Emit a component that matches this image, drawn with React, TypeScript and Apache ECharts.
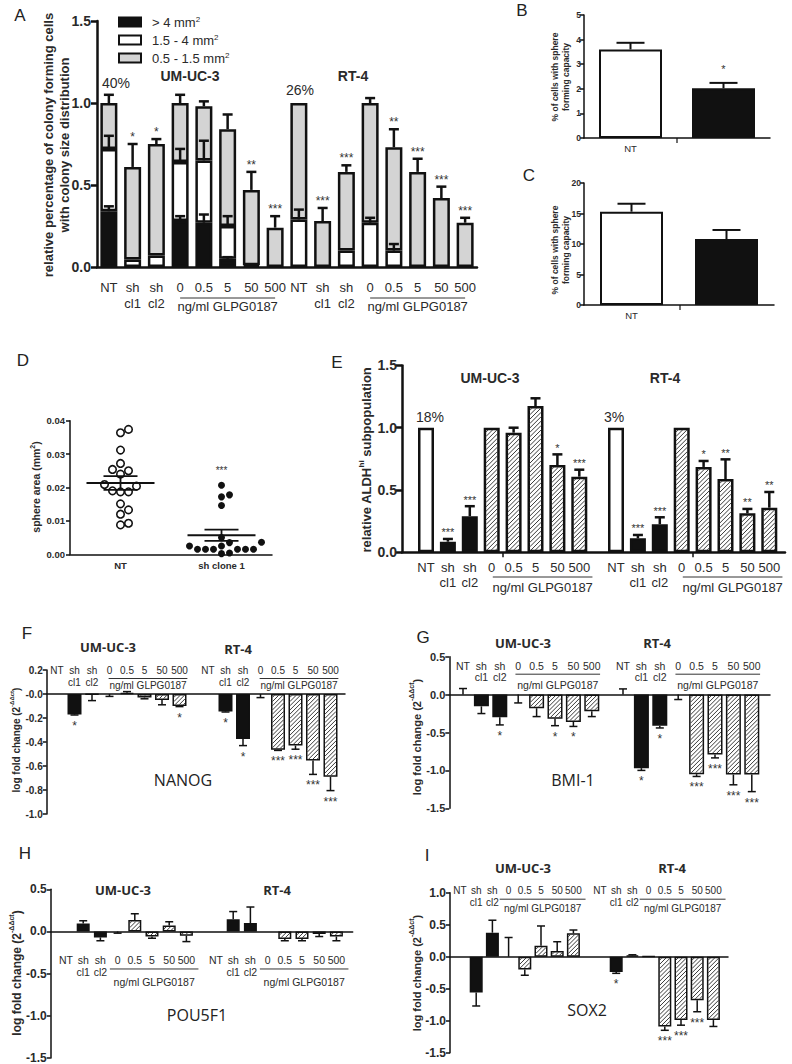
import React, { useEffect, useRef } from 'react';
import * as echarts from 'echarts';

const SANS = '"Liberation Sans", Arial, Helvetica, sans-serif';
const CAL = '"Open Sans", "Liberation Sans", sans-serif';
const INK = '#111111';
const TXT = '#2a2a2a';
const GREY = '#d4d4d4';

// ---------------- shared categories ----------------
const doseGroup = ['NT', 'sh\ncl1', 'sh\ncl2', '0', '0.5', '5', '50', '500'];
const fillKinds = ['open', 'solid', 'solid', 'hatch', 'hatch', 'hatch', 'hatch', 'hatch'];
const cellLines = ['UM-UC-3', 'RT-4'];
const doseUnit = 'ng/ml GLPG0187';

// ---------------- A : colony size distribution ----------------
const aLegend = ['> 4 mm2', '1.5 - 4 mm2', '0.5 - 1.5 mm2'];
const aYTicks = ['0.0', '0.5', '1.0', '1.5'];
const aBlackTop = [0.34, 0, 0, 0.28, 0.27, 0.05, 0.01, 0, 0, 0, 0, 0, 0, 0, 0, 0];
const aWhiteTop = [0.72, 0.045, 0.07, 0.64, 0.65, 0.25, 0.01, 0, 0.29, 0, 0.1, 0.27, 0.1, 0, 0, 0];
const aTotal = [1.0, 0.61, 0.75, 1.0, 0.98, 0.84, 0.47, 0.24, 1.0, 0.28, 0.58, 1.0, 0.73, 0.58, 0.42, 0.27];
const aErrBlack = [0.37, null, null, 0.31, 0.32, 0.06, null, null, null, null, null, null, null, null, null, null];
const aErrWhite = [0.8, null, null, 0.72, 0.77, 0.31, null, null, 0.35, null, null, 0.3, 0.14, null, null, null];
const aErrTotal = [1.05, 0.75, 0.78, 1.05, 1.01, 0.93, 0.58, 0.31, null, 0.36, 0.62, 1.03, 0.84, 0.66, 0.49, 0.3];
const aStars = ['', '*', '*', '', '', '', '**', '***', '', '***', '***', '', '**', '***', '***', '***'];
const aPct = ['40%', '26%'];

// ---------------- B / C : sphere forming capacity ----------------
const bcCats = ['NT', 'ITGAV sh clone 1'];
const bYTicks = ['0', '1', '2', '3', '4', '5'];
const bVals = [3.6, 2.02];
const bErr = [3.87, 2.24];
const bStars = ['', '*'];
const cYTicks = ['0', '5', '10', '15', '20'];
const cVals = [15.3, 10.8];
const cErr = [16.6, 12.3];
const cStars = ['', ''];

// ---------------- D : sphere area ----------------
const dCats = ['NT', 'sh clone 1'];
const dYTicks = ['0.00', '0.01', '0.02', '0.03', '0.04'];
const dNT = [0.0374, 0.0364, 0.0312, 0.0272, 0.025, 0.0254, 0.024, 0.0204, 0.0209, 0.0187, 0.0187, 0.019, 0.0133, 0.0151, 0.012, 0.0088, 0.0093];
const dSh = [0.0207, 0.0178, 0.0172, 0.0146, 0.005, 0.0036, 0.0035, 0.0025, 0.0025, 0.0015, 0.0015, 0.0015, 0.0015, 0.0015, 0.0015, 0.0004, 0.0002];
const dStars = ['', '***'];

// ---------------- E : ALDH-hi ----------------
const eYTicks = ['0.0', '0.5', '1.0', '1.5'];
const eVals = [1.0, 0.085, 0.29, 1.0, 0.96, 1.174, 0.7, 0.607, 1.0, 0.112, 0.225, 1.0, 0.685, 0.588, 0.313, 0.358];
const eErr = [null, 0.107, 0.37, null, 1.0, 1.236, 0.786, 0.663, null, 0.139, 0.281, null, 0.733, 0.746, 0.348, 0.484];
const eStars = ['', '***', '***', '', '', '', '*', '***', '', '***', '***', '', '*', '**', '**', '**'];
const ePct = ['18%', '3%'];

// ---------------- F : NANOG ----------------
const fYTicks = ['-1.0', '-0.8', '-0.6', '-0.4', '-0.2', '-0.0', '0.2'];
const fVals = [0, -0.17, -0.005, 0, 0.01, -0.03, -0.05, -0.1, 0, -0.145, -0.375, 0, -0.465, -0.43, -0.555, -0.69];
const fErr = [null, -0.175, -0.055, -0.02, 0.02, -0.04, -0.09, -0.105, null, -0.15, -0.43, -0.03, -0.47, -0.46, -0.67, -0.805];
const fStars = ['', '*', '', '', '', '', '', '*', '', '*', '*', '', '***', '***', '***', '***'];

// ---------------- G : BMI-1 ----------------
const gYTicks = ['-1.5', '-1.0', '-0.5', '0.0', '0.5'];
const gVals = [0, -0.155, -0.3, 0, -0.18, -0.32, -0.36, -0.22, 0, -0.97, -0.41, 0, -1.05, -0.79, -1.055, -1.055];
const gErr = [0.08, -0.25, -0.4, -0.11, -0.29, -0.41, -0.42, -0.29, 0.075, -1.0, -0.44, -0.065, -1.08, -0.835, -1.19, -1.28];
const gStars = ['', '', '*', '', '', '*', '*', '', '', '*', '*', '', '***', '***', '***', '***'];

// ---------------- H : POU5F1 ----------------
const hYTicks = ['-1.5', '-1.0', '-0.5', '0.0', '0.5'];
const hVals = [0, 0.095, -0.07, 0, 0.135, -0.06, 0.07, -0.05, 0, 0.145, 0.1, 0, -0.09, -0.09, -0.03, -0.06];
const hErr = [null, 0.127, -0.11, -0.02, 0.21, -0.08, 0.115, -0.12, null, 0.236, 0.29, null, -0.11, -0.11, -0.06, -0.11];
const hStars = ['', '', '', '', '', '', '', '', '', '', '', '', '', '', '', ''];

// ---------------- I : SOX2 ----------------
const iYTicks = ['-1.5', '-1.0', '-0.5', '0.0', '0.5', '1.0'];
const iVals = [0, -0.56, 0.375, 0, -0.2, 0.17, 0.09, 0.365, 0, -0.24, 0.02, 0.005, -1.09, -0.99, -0.68, -0.99];
const iErr = [null, -0.77, 0.57, 0.3, -0.29, 0.48, 0.234, 0.417, null, -0.26, 0.03, null, -1.15, -1.07, -0.86, -1.09];
const iStars = ['', '', '', '', '', '', '', '', '', '*', '', '', '***', '***', '***', ''];

const geneNames = ['NANOG', 'BMI-1', 'POU5F1', 'SOX2'];

// ---------------- helpers ----------------
function styleFor(kind: string) {
  if (kind === 'solid') return { color: INK };
  return { color: '#ffffff' };
}

function mean(a: number[]) {
  return a.reduce((s, v) => s + v, 0) / a.length;
}
function sem(a: number[]) {
  const m = mean(a);
  const sd = Math.sqrt(a.reduce((s, v) => s + (v - m) * (v - m), 0) / (a.length - 1));
  return sd / Math.sqrt(a.length);
}

function swarmOffsets(vals: number[], pxPerUnit: number, diam: number, step: number) {
  const order = vals.map((_, i) => i).sort((a, b) => vals[a] - vals[b]);
  const placed: { x: number; y: number }[] = [];
  const out = new Array(vals.length).fill(0);
  for (const i of order) {
    const y = vals[i] * pxPerUnit;
    for (let k = 0; k < 30; k++) {
      const dx = k === 0 ? 0 : (k % 2 === 1 ? 1 : -1) * Math.ceil(k / 2) * step;
      if (placed.every((p) => Math.hypot(p.x - dx, p.y - y) >= diam)) {
        out[i] = dx;
        placed.push({ x: dx, y });
        break;
      }
    }
  }
  return out;
}

function buildOption() {
  const grids: any[] = [];
  const xAxes: any[] = [];
  const yAxes: any[] = [];
  const series: any[] = [];
  const graphic: any[] = [];

  const addGrid = (r: any) => {
    grids.push({ left: r.left, top: r.top, width: r.width, height: r.height });
    return grids.length - 1;
  };

  const yAxisOf = (gi: number, o: any) => ({
    gridIndex: gi,
    type: 'value',
    min: o.min,
    max: o.max,
    interval: o.interval,
    axisLine: { show: true, onZero: false, lineStyle: { color: INK, width: o.w } },
    axisTick: { show: true, length: o.tick, lineStyle: { color: INK, width: o.w } },
    axisLabel: {
      fontFamily: SANS,
      fontWeight: 'bold',
      fontSize: o.fs,
      color: TXT,
      margin: o.margin,
      formatter: (_v: number, i: number) => o.ticks[i] ?? '',
    },
    splitLine: { show: false },
  });

  const errSeries = (xi: number, items: any[], lw: number, cap: number) => ({
    type: 'custom',
    xAxisIndex: xi,
    yAxisIndex: xi,
    silent: true,
    z: 4,
    data: items.map((it) => [it.x, it.v, it.e]),
    renderItem: (_p: any, api: any) => {
      const a = api.coord([api.value(0), api.value(1)]);
      const b = api.coord([api.value(0), api.value(2)]);
      return {
        type: 'group',
        children: [
          { type: 'line', shape: { x1: a[0], y1: a[1], x2: b[0], y2: b[1] }, style: { stroke: INK, lineWidth: lw } },
          { type: 'line', shape: { x1: b[0] - cap, y1: b[1], x2: b[0] + cap, y2: b[1] }, style: { stroke: INK, lineWidth: lw } },
        ],
      };
    },
  });

  // diagonal "/" hatching laid over the white drug-dose bars
  const hatchSeries = (xi: number, items: any[], barW: number, inset: number, gap: number) => ({
    type: 'custom',
    xAxisIndex: xi,
    yAxisIndex: xi,
    silent: true,
    z: 3,
    data: items.map((it) => [it.x, it.v]),
    renderItem: (_p: any, api: any) => {
      const a = api.coord([api.value(0), 0]);
      const b = api.coord([api.value(0), api.value(1)]);
      const x0 = a[0] - barW / 2 + inset;
      const x1 = a[0] + barW / 2 - inset;
      const y0 = Math.min(a[1], b[1]) + inset;
      const y1 = Math.max(a[1], b[1]) - inset;
      const children: any[] = [];
      if (y1 > y0 && x1 > x0) {
        for (let c = x0 + y0 + gap * 0.5; c < x1 + y1; c += gap) {
          const xa = Math.max(x0, c - y1);
          const xb = Math.min(x1, c - y0);
          if (xb > xa) {
            children.push({
              type: 'line',
              shape: { x1: xa, y1: c - xa, x2: xb, y2: c - xb },
              style: { stroke: '#3a3a3a', lineWidth: 1 },
            });
          }
        }
      }
      return { type: 'group', children };
    },
  });

  const starSeries = (xi: number, items: any[], fs: number, gapUp: number, gapDown: number) => ({
    type: 'custom',
    xAxisIndex: xi,
    yAxisIndex: xi,
    silent: true,
    z: 5,
    data: items.map((it) => [it.x, it.a]),
    renderItem: (p: any, api: any) => {
      const it = items[p.dataIndex];
      const c = api.coord([api.value(0), api.value(1)]);
      const up = it.up;
      return {
        type: 'text',
        x: c[0],
        y: up ? c[1] - gapUp : c[1] + gapDown,
        style: {
          text: it.s,
          fontFamily: SANS,
          fontSize: fs,
          fill: '#333333',
          align: 'center',
          verticalAlign: up ? 'bottom' : 'top',
        },
      };
    },
  });

  const labelSeries = (xi: number, positions: number[], anchor: number, lab: any) => ({
    type: 'custom',
    xAxisIndex: xi,
    yAxisIndex: xi,
    silent: true,
    z: 5,
    data: positions.map((p) => [p, anchor]),
    renderItem: (p: any, api: any) => {
      const c = api.coord([api.value(0), api.value(1)]);
      return {
        type: 'text',
        x: c[0],
        y: c[1] + lab.dy1 - lab.lh / 2,
        style: {
          text: doseGroup[p.dataIndex % 8],
          fontFamily: SANS,
          fontSize: lab.fs,
          lineHeight: lab.lh,
          fill: TXT,
          align: 'center',
          verticalAlign: 'top',
        },
      };
    },
  });

  const doseSeries = (xi: number, spans: number[][], anchor: number, grp: any) => ({
    type: 'custom',
    xAxisIndex: xi,
    yAxisIndex: xi,
    silent: true,
    z: 5,
    data: spans.map((s) => [s[0], anchor, s[1]]),
    renderItem: (_p: any, api: any) => {
      const a = api.coord([api.value(0) + grp.dl, api.value(1)]);
      const b = api.coord([api.value(2) + grp.dr, api.value(1)]);
      return {
        type: 'group',
        children: [
          { type: 'line', shape: { x1: a[0], y1: a[1] + grp.dyLine, x2: b[0], y2: a[1] + grp.dyLine }, style: { stroke: '#333333', lineWidth: 1 } },
          {
            type: 'text',
            x: (a[0] + b[0]) / 2,
            y: a[1] + grp.dyText,
            style: { text: doseUnit, fontFamily: SANS, fontSize: grp.fs, fill: TXT, align: 'center', verticalAlign: 'middle' },
          },
        ],
      };
    },
  });

  const errItems = (pos: number[], vals: number[], errs: (number | null)[]) =>
    pos.map((x, i) => ({ x, v: vals[i], e: errs[i] })).filter((it) => it.e !== null && it.e !== undefined);
  const starItems = (pos: number[], vals: number[], errs: (number | null)[], stars: string[]) =>
    pos
      .map((x, i) => {
        const a = errs[i] !== null && errs[i] !== undefined ? (errs[i] as number) : vals[i];
        return { x, a, s: stars[i], up: a >= 0 };
      })
      .filter((it) => it.s);

  // ================= Panel A =================
  {
    const gi = addGrid({ left: 97, top: 21, width: 380, height: 246 });
    const cats = [...doseGroup, ...doseGroup];
    xAxes.push({
      gridIndex: gi,
      type: 'category',
      data: cats,
      axisLine: { lineStyle: { color: INK, width: 2.5 } },
      axisTick: { show: false },
      axisLabel: { show: false },
    });
    yAxes.push(yAxisOf(gi, { min: 0, max: 1.5, interval: 0.5, w: 2.5, tick: 6, fs: 14, margin: 6, ticks: aYTicks }));
    const seg = (top: number[], base: number[]) => top.map((t, i) => (t - base[i] > 0.0001 ? +(t - base[i]).toFixed(4) : null));
    const zeros = aBlackTop.map(() => 0);
    const common = { type: 'bar', stack: 'A', xAxisIndex: gi, yAxisIndex: gi, barWidth: 17, z: 2 };
    series.push({ ...common, name: aLegend[0], data: seg(aBlackTop, zeros), itemStyle: { color: INK, borderColor: INK, borderWidth: 2.5 } });
    series.push({ ...common, name: aLegend[1], data: seg(aWhiteTop, aBlackTop), itemStyle: { color: '#ffffff', borderColor: INK, borderWidth: 2.5 } });
    series.push({ ...common, name: aLegend[2], data: seg(aTotal, aWhiteTop), itemStyle: { color: GREY, borderColor: INK, borderWidth: 2.5 } });
    const pos = cats.map((_, i) => i);
    const items = [
      ...errItems(pos, aBlackTop, aErrBlack),
      ...errItems(pos, aWhiteTop, aErrWhite),
      ...errItems(pos, aTotal, aErrTotal),
    ];
    series.push(errSeries(gi, items, 2.5, 5));
    series.push(starSeries(gi, starItems(pos, aTotal, aErrTotal, aStars), 12, 1, 3));
    series.push(labelSeries(gi, pos, 0, { dy1: 20, lh: 16, fs: 13 }));
    series.push(doseSeries(gi, [[3, 7], [11, 15]], 0, { dl: -0.35, dr: 0.3, dyLine: 31, dyText: 39.5, fs: 13 }));
  }

  // ================= Panels B & C =================
  const simplePanel = (rect: any, ticks: string[], max: number, interval: number, vals: number[], errs: number[], stars: string[]) => {
    const gi = addGrid(rect);
    xAxes.push({
      gridIndex: gi,
      type: 'category',
      data: bcCats,
      axisLine: { lineStyle: { color: INK, width: 1.5 } },
      axisTick: { show: false },
      axisLabel: { fontFamily: SANS, fontSize: 9.5, color: TXT, margin: 5 },
    });
    yAxes.push(yAxisOf(gi, { min: 0, max, interval, w: 1.5, tick: 4, fs: 8.5, margin: 3, ticks }));
    series.push({
      type: 'bar',
      xAxisIndex: gi,
      yAxisIndex: gi,
      barWidth: 63,
      z: 2,
      data: vals.map((v, i) => ({ value: v, itemStyle: { color: i === 0 ? '#ffffff' : INK } })),
      itemStyle: { borderColor: INK, borderWidth: 2 },
    });
    const pos = vals.map((_, i) => i);
    series.push(errSeries(gi, errItems(pos, vals, errs), 2, 14));
    series.push(starSeries(gi, starItems(pos, vals, errs, stars), 11, 8, 3));
    return gi;
  };
  simplePanel({ left: 584, top: 15, width: 186, height: 123 }, bYTicks, 5, 1, bVals, bErr, bStars);
  simplePanel({ left: 584, top: 183, width: 190, height: 122 }, cYTicks, 20, 5, cVals, cErr, cStars);

  // ================= Panel D =================
  {
    const rect = { left: 70, top: 420.7, width: 202, height: 133.6 };
    const gi = addGrid(rect);
    xAxes.push({
      gridIndex: gi,
      type: 'category',
      data: dCats,
      axisLine: { lineStyle: { color: INK, width: 1.5 } },
      axisTick: { show: false },
      axisLabel: { fontFamily: SANS, fontSize: 9.5, fontWeight: 'bold', color: TXT, margin: 6 },
    });
    yAxes.push(yAxisOf(gi, { min: 0, max: 0.04, interval: 0.01, w: 1.5, tick: 4, fs: 9.5, margin: 5, ticks: dYTicks }));
    const ppu = rect.height / 0.04;
    const offNT = swarmOffsets(dNT, ppu, 7.6, 8);
    const offSh = swarmOffsets(dSh, ppu, 7.6, 8);
    series.push({
      type: 'scatter',
      xAxisIndex: gi,
      yAxisIndex: gi,
      symbol: 'circle',
      symbolSize: 7.5,
      z: 3,
      itemStyle: { color: '#ffffff', borderColor: INK, borderWidth: 1.6, opacity: 1 },
      data: dNT.map((v, i) => ({ value: [0, v], symbolOffset: [offNT[i], 0] })),
    });
    series.push({
      type: 'scatter',
      xAxisIndex: gi,
      yAxisIndex: gi,
      symbol: 'circle',
      symbolSize: 7,
      z: 3,
      itemStyle: { color: INK, opacity: 1 },
      data: dSh.map((v, i) => ({ value: [1, v], symbolOffset: [offSh[i], 0] })),
    });
    const groups = [dNT, dSh];
    series.push({
      type: 'custom',
      xAxisIndex: gi,
      yAxisIndex: gi,
      silent: true,
      z: 4,
      data: groups.map((g, i) => [i, mean(g), sem(g)]),
      renderItem: (_p: any, api: any) => {
        const x = api.value(0), m = api.value(1), s = api.value(2);
        const cm = api.coord([x, m]);
        const ch = api.coord([x, m + s]);
        const cl = api.coord([x, m - s]);
        const st = { stroke: INK, lineWidth: 1.8 };
        return {
          type: 'group',
          children: [
            { type: 'line', shape: { x1: cm[0] - 34, y1: cm[1], x2: cm[0] + 34, y2: cm[1] }, style: st },
            { type: 'line', shape: { x1: ch[0] - 17, y1: ch[1], x2: ch[0] + 17, y2: ch[1] }, style: st },
            { type: 'line', shape: { x1: cl[0] - 17, y1: cl[1], x2: cl[0] + 17, y2: cl[1] }, style: st },
            { type: 'line', shape: { x1: ch[0], y1: ch[1], x2: cl[0], y2: cl[1] }, style: st },
          ],
        };
      },
    });
    const starIt = groups
      .map((g, i) => ({ x: i, a: Math.max(...g), s: dStars[i], up: true }))
      .filter((it) => it.s);
    series.push(starSeries(gi, starIt, 10, 10, 0));
  }

  // ================= grouped panels E..I =================
  const groupedPanel = (p: any) => {
    const gi = addGrid(p.grid);
    const xMin = (p.grid.left - p.x0) / p.step;
    const xMax = (p.grid.left + p.grid.width - p.x0) / p.step;
    const gOff = p.gOff / p.step;
    const pos = Array.from({ length: 16 }, (_, i) => (i % 8) + (i >= 8 ? gOff : 0));
    xAxes.push({
      gridIndex: gi,
      type: 'value',
      min: xMin,
      max: xMax,
      axisLine: { show: true, onZero: true, lineStyle: { color: INK, width: p.axisW } },
      axisTick: p.midTicks
        ? { show: true, length: 5, customValues: [3.5, 3.5 + gOff], lineStyle: { color: INK, width: 1.5 } }
        : { show: false },
      axisLabel: { show: false },
      splitLine: { show: false },
    });
    yAxes.push(yAxisOf(gi, { min: p.yMin, max: p.yMax, interval: p.yInt, w: p.axisW, tick: p.tick, fs: p.yFont, margin: p.yMargin, ticks: p.yTicks }));
    series.push({
      type: 'bar',
      xAxisIndex: gi,
      yAxisIndex: gi,
      barWidth: p.barW,
      z: 2,
      itemStyle: { borderColor: INK, borderWidth: p.bw },
      data: p.vals
        .map((v: number, i: number) => (v === 0 ? null : { value: [pos[i], v], itemStyle: styleFor(fillKinds[i % 8]) }))
        .filter(Boolean),
    });
    const hatchIt = pos
      .map((x, i) => ({ x, v: p.vals[i], k: fillKinds[i % 8] }))
      .filter((it) => it.k === 'hatch' && it.v !== 0);
    series.push(hatchSeries(gi, hatchIt, p.barW, p.bw * 0.9, p.hatchGap));
    series.push(errSeries(gi, errItems(pos, p.vals, p.errs), p.errW, p.cap));
    series.push(starSeries(gi, starItems(pos, p.vals, p.errs, p.stars), p.starFs, p.starUp, p.starDown));
    series.push(labelSeries(gi, pos, p.labelAnchor, p.lab));
    series.push(doseSeries(gi, [[pos[3], pos[7]], [pos[11], pos[15]]], p.labelAnchor, p.grp));
  };

  groupedPanel({
    grid: { left: 402, top: 365.4, width: 383, height: 186.9 },
    yMin: 0, yMax: 1.5, yInt: 0.5, yTicks: eYTicks, yFont: 14, yMargin: 5, tick: 6,
    x0: 426, step: 21.9, gOff: 190, barW: 16, bw: 2.5, axisW: 2.5, errW: 2.5, cap: 5, midTicks: true, hatchGap: 4.4,
    vals: eVals, errs: eErr, stars: eStars, starFs: 11, starUp: 1, starDown: 3,
    labelAnchor: 0, lab: { dy1: 14.7, lh: 15, fs: 13 },
    grp: { dl: 0.05, dr: 0.6, dyLine: 24.7, dyText: 34.7, fs: 13 },
  });
  groupedPanel({
    grid: { left: 46.7, top: 670, width: 298.3, height: 144 },
    yMin: -1.0, yMax: 0.2, yInt: 0.2, yTicks: fYTicks, yFont: 10, yMargin: 4, tick: 4,
    x0: 57, step: 17.5, gOff: 151, barW: 14, bw: 1.5, axisW: 1.5, errW: 1.5, cap: 4, hatchGap: 4.2,
    vals: fVals, errs: fErr, stars: fStars, starFs: 12, starUp: 1, starDown: 5,
    labelAnchor: 0.2, lab: { dy1: 0.7, lh: 12.3, fs: 10 },
    grp: { dl: -0.05, dr: 0.45, dyLine: 8.5, dyText: 15, fs: 10 },
  });
  groupedPanel({
    grid: { left: 449.3, top: 656.7, width: 320.7, height: 151.6 },
    yMin: -1.5, yMax: 0.5, yInt: 0.5, yTicks: gYTicks, yFont: 11, yMargin: 4, tick: 4,
    x0: 463, step: 18.4, gOff: 160, barW: 15, bw: 1.5, axisW: 1.5, errW: 1.5, cap: 4, hatchGap: 4.2,
    vals: gVals, errs: gErr, stars: gStars, starFs: 12, starUp: 1, starDown: 5,
    labelAnchor: 0.5, lab: { dy1: 9.5, lh: 11, fs: 10.5 },
    grp: { dl: -0.15, dr: 0.45, dyLine: 17.5, dyText: 28.5, fs: 10.5 },
  });
  groupedPanel({
    grid: { left: 50.7, top: 889.3, width: 302, height: 169 },
    yMin: -1.5, yMax: 0.5, yInt: 0.5, yTicks: hYTicks, yFont: 12, yMargin: 4, tick: 4,
    x0: 66, step: 17.2, gOff: 150, barW: 13, bw: 1.5, axisW: 1.5, errW: 1.5, cap: 4, hatchGap: 4.2,
    vals: hVals, errs: hErr, stars: hStars, starFs: 12, starUp: 1, starDown: 5,
    labelAnchor: 0, lab: { dy1: 28.5, lh: 12, fs: 10.5 },
    grp: { dl: -0.45, dr: 0.7, dyLine: 37.5, dyText: 51, fs: 10.5 },
  });
  groupedPanel({
    grid: { left: 450, top: 892.7, width: 278, height: 160 },
    yMin: -1.5, yMax: 1.0, yInt: 0.5, yTicks: iYTicks, yFont: 12, yMargin: 4, tick: 4,
    x0: 460, step: 16.2, gOff: 140, barW: 13, bw: 1.5, axisW: 1.5, errW: 1.5, cap: 4, hatchGap: 4.2,
    vals: iVals, errs: iErr, stars: iStars, starFs: 12, starUp: 1, starDown: 5,
    labelAnchor: 1.0, lab: { dy1: -2.7, lh: 12, fs: 10 },
    grp: { dl: -0.55, dr: 0.75, dyLine: 6.5, dyText: 15.5, fs: 10 },
  });

  // ================= annotations (graphic) =================
  const txt = (text: string, x: number, y: number, fs: number, extra: any = {}) => ({
    type: 'text',
    x,
    y,
    silent: true,
    z: 10,
    style: { text, fontFamily: SANS, fontSize: fs, fill: TXT, align: 'center', verticalAlign: 'middle', ...extra },
  });
  const ytitle = (text: string, x: number, y: number, fs: number, lh: number) => ({
    type: 'text',
    x,
    y,
    rotation: Math.PI / 2,
    silent: true,
    z: 10,
    style: {
      text,
      fontFamily: SANS,
      fontWeight: 'bold',
      fontSize: fs,
      lineHeight: lh,
      fill: TXT,
      align: 'center',
      verticalAlign: 'middle',
      rich: {
        n: { fontFamily: SANS, fontWeight: 'bold', fontSize: fs, lineHeight: lh, fill: TXT, verticalAlign: 'bottom' },
        s: { fontFamily: SANS, fontWeight: 'bold', fontSize: Math.round(fs * 0.62), lineHeight: lh, fill: TXT, verticalAlign: 'top' },
      },
    },
  });

  const letters: [string, number, number][] = [
    ['A', 20, 15], ['B', 522, 10], ['C', 529, 175], ['D', 23, 360], ['E', 337, 362],
    ['F', 27, 633], ['G', 423, 637], ['H', 25, 853], ['I', 427, 855],
  ];
  letters.forEach(([t, x, y]) => graphic.push(txt(t, x, y, 17, { fill: '#222222' })));

  graphic.push(txt(aPct[0], 116, 83, 14));
  graphic.push(txt(aPct[1], 300, 90, 14));
  graphic.push(txt(ePct[0], 430, 417, 14));
  graphic.push(txt(ePct[1], 614, 417, 14));

  const titlePos: [number, number, number, number, number, string][] = [
    [190, 76, 353, 76, 14, SANS],
    [490, 378, 665, 378, 14, SANS],
    [108, 647, 238, 649, 13, CAL],
    [523, 643, 657, 643, 13, CAL],
    [123, 890, 277, 890, 13, CAL],
    [523, 868, 672, 868, 13, CAL],
  ];
  titlePos.forEach(([x1, y1, x2, y2, fs, ff]) => {
    graphic.push(txt(cellLines[0], x1, y1, fs, { fontWeight: 'bold', fontFamily: ff }));
    graphic.push(txt(cellLines[1], x2, y2, fs, { fontWeight: 'bold', fontFamily: ff }));
  });

  const genePos: [number, number][] = [[183, 780], [573, 780], [197, 1015], [587, 1010]];
  geneNames.forEach((g, i) => graphic.push(txt(g, genePos[i][0], genePos[i][1], 16, { fontFamily: CAL, fill: '#222222' })));

  graphic.push(ytitle('relative percentage of colony forming cells\nwith colony size distribution', 56, 145, 13, 16));
  graphic.push(ytitle('{n|relative ALDH}{s|hi}{n| subpopulation}', 365, 460, 13, 16));
  graphic.push(ytitle('% of cells with sphere\nforming capacity', 560, 77, 8.5, 11));
  graphic.push(ytitle('% of cells with sphere\nforming capacity', 560, 250, 8.5, 11));
  graphic.push(ytitle('{n|sphere area (mm}{s|2}{n|)}', 35, 487, 10.5, 13));
  graphic.push(ytitle('{n|log fold change (2}{s|-ΔΔct}{n|)}', 15, 740, 10, 13));
  graphic.push(ytitle('{n|log fold change (2}{s|-ΔΔct}{n|)}', 415, 737, 11, 14));
  graphic.push(ytitle('{n|log fold change (2}{s|-ΔΔct}{n|)}', 15, 973, 12, 15));
  graphic.push(ytitle('{n|log fold change (2}{s|-ΔΔct}{n|)}', 415, 973, 11, 14));

  // separator ticks under B / C axes
  graphic.push({ type: 'line', silent: true, shape: { x1: 677, y1: 138, x2: 677, y2: 143 }, style: { stroke: INK, lineWidth: 1.2 } });
  graphic.push({ type: 'line', silent: true, shape: { x1: 680, y1: 305, x2: 680, y2: 310 }, style: { stroke: INK, lineWidth: 1.2 } });

  return {
    animation: false,
    backgroundColor: '#ffffff',
    textStyle: { fontFamily: SANS },
    legend: {
      left: 113,
      top: 10,
      orient: 'vertical',
      icon: 'rect',
      itemWidth: 22,
      itemHeight: 9,
      itemGap: 4,
      data: aLegend,
      selectedMode: false,
      formatter: (n: string) => n.replace('mm2', 'mm{sup|2}'),
      textStyle: {
        fontFamily: SANS,
        fontSize: 13,
        color: TXT,
        lineHeight: 14,
        padding: [0, 0, 0, 6],
        rich: { sup: { fontFamily: SANS, fontSize: 8, color: TXT, verticalAlign: 'top', lineHeight: 14 } },
      },
    },
    grid: grids,
    xAxis: xAxes,
    yAxis: yAxes,
    series,
    graphic,
  };
}

export default function App() {
  const ref = useRef<HTMLDivElement | null>(null);
  useEffect(() => {
    if (!ref.current) return;
    const chart = echarts.init(ref.current, undefined, { renderer: 'svg' });
    chart.setOption(buildOption() as any);
    return () => chart.dispose();
  }, []);
  return (
    <div
      ref={ref}
      style={{ position: 'absolute', left: 0, top: 0, width: 792, height: 1064, background: '#fff' }}
    />
  );
}
